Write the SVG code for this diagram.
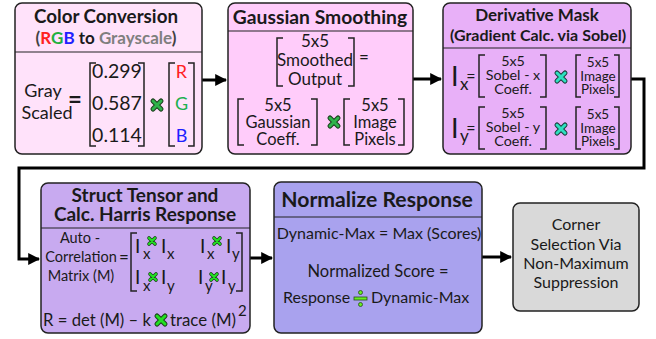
<svg xmlns="http://www.w3.org/2000/svg" width="656" height="339" viewBox="0 0 656 339">
<defs>
<style>
text{font-family:Lato,"Noto Sans","Liberation Sans",sans-serif;fill:#1a1a1a}
.box{stroke:#222;stroke-width:1.5}
.sep{stroke:#222;stroke-width:1.2}
.ttl{font-weight:bold;text-anchor:middle}
.c{text-anchor:middle}
.br{fill:none;stroke:#222;stroke-width:1.5}
.conn{fill:none;stroke:#000;stroke-width:3}
</style>
<marker id="ah" viewBox="0 0 10 10" refX="9" refY="5" markerWidth="4" markerHeight="4" markerUnits="strokeWidth" orient="auto">
<path d="M0,0 L10,5 L0,10 z" fill="#000"/>
</marker>
<g id="xg"><path d="M-4,-4 L4,4 M-4,4 L4,-4" stroke="#1d3d1d" stroke-width="5" stroke-linecap="round"/><path d="M-4,-4 L4,4 M-4,4 L4,-4" stroke="#2fb34a" stroke-width="3" stroke-linecap="round"/></g>
<g id="xb"><path d="M-4,-4 L4,4 M-4,4 L4,-4" stroke="#1d3d1d" stroke-width="5" stroke-linecap="round"/><path d="M-4,-4 L4,4 M-4,4 L4,-4" stroke="#22e022" stroke-width="3" stroke-linecap="round"/></g>
<g id="xc"><path d="M-4,-4 L4,4 M-4,4 L4,-4" stroke="#1d3d3d" stroke-width="5" stroke-linecap="round"/><path d="M-4,-4 L4,4 M-4,4 L4,-4" stroke="#2ee0c0" stroke-width="3" stroke-linecap="round"/></g>
<g id="xs"><path d="M-3,-3 L3,3 M-3,3 L3,-3" stroke="#1d3d1d" stroke-width="3.6" stroke-linecap="round"/><path d="M-3,-3 L3,3 M-3,3 L3,-3" stroke="#22e022" stroke-width="2.2" stroke-linecap="round"/></g>
</defs>

<g id="connectors">
<path class="conn" d="M202,80 H226" marker-end="url(#ah)"/>
<path class="conn" d="M413,79 H441" marker-end="url(#ah)"/>
<path class="conn" d="M631,79 H644 V168 H19 V259 H39" marker-end="url(#ah)"/>
<path class="conn" d="M250,258 H272" marker-end="url(#ah)"/>
<path class="conn" d="M482,257 H511" marker-end="url(#ah)"/>
</g>

<g id="color-conversion">
<rect class="box" x="15" y="3" width="187" height="151" rx="7" fill="#ffe2fa"/>
<line class="sep" x1="15" y1="52" x2="202" y2="52"/>
<text class="ttl" x="106" y="23" font-size="18.8">Color Conversion</text>
<text class="ttl" x="106" y="44" font-size="17"><tspan fill="#404040">(</tspan><tspan fill="#ff2020">R</tspan><tspan fill="#20b040">G</tspan><tspan fill="#2020ff">B</tspan> to <tspan fill="#7f7f7f">Grayscale</tspan><tspan fill="#404040">)</tspan></text>
<text class="c" x="43" y="97" font-size="18">Gray</text>
<text class="c" x="47" y="119" font-size="18">Scaled</text>
<text class="c" x="75" y="108" font-size="24" font-weight="bold">=</text>
<path class="br" d="M96,63 H90 V146 H96 M138,63 H144 V146 H138"/>
<text class="c" x="117" y="78" font-size="19.5">0.299</text>
<text class="c" x="117" y="110" font-size="19.5">0.587</text>
<text class="c" x="117" y="142" font-size="19.5">0.114</text>
<use href="#xg" x="157" y="105"/>
<path class="br" d="M175,63 H169 V146 H175 M188,63 H194 V146 H188"/>
<text class="c" x="181.5" y="78" font-size="18" style="fill:#ff2020">R</text>
<text class="c" x="181.5" y="110" font-size="18" style="fill:#20b050">G</text>
<text class="c" x="181.5" y="142" font-size="18" style="fill:#2020ff">B</text>
</g>

<g id="gaussian-smoothing">
<rect class="box" x="228" y="3" width="185" height="151" rx="7" fill="#ffccfa"/>
<line class="sep" x1="228" y1="31" x2="413" y2="31"/>
<text class="ttl" x="320" y="24" font-size="19.3">Gaussian Smoothing</text>
<path class="br" d="M283,38 H277 V86 H283 M348,38 H354 V86 H348"/>
<text class="c" x="315" y="47" font-size="17">5x5</text>
<text class="c" x="315" y="66" font-size="17">Smoothed</text>
<text class="c" x="315" y="85" font-size="17">Output</text>
<text class="c" x="364" y="63" font-size="17">=</text>
<path class="br" d="M244,99 H238 V145 H244 M311,99 H317 V145 H311"/>
<text class="c" x="278" y="111" font-size="16.5">5x5</text>
<text class="c" x="278" y="128" font-size="16.5">Gaussian</text>
<text class="c" x="278" y="145" font-size="16.5">Coeff.</text>
<use href="#xg" x="334" y="122"/>
<path class="br" d="M350,99 H344 V145 H350 M398,99 H404 V145 H398"/>
<text class="c" x="375" y="111" font-size="16.5">5x5</text>
<text class="c" x="375" y="128" font-size="16.5">Image</text>
<text class="c" x="375" y="145" font-size="16.5">Pixels</text>
</g>

<g id="derivative-mask">
<rect class="box" x="443" y="3" width="188" height="151" rx="7" fill="#e8b0f8"/>
<line class="sep" x1="443" y1="48" x2="631" y2="48"/>
<text class="ttl" x="537" y="21" font-size="17">Derivative Mask</text>
<text class="ttl" x="538" y="41" font-size="16">(Gradient Calc. via Sobel)</text>
<text x="451" y="86" font-size="27">I</text>
<text x="460" y="90" font-size="17">x</text>
<text class="c" x="471" y="82" font-size="16">=</text>
<path class="br" d="M485,55 H479 V97 H485 M540,55 H546 V97 H540"/>
<text class="c" x="513" y="66" font-size="14.3">5x5</text>
<text class="c" x="513" y="80" font-size="14.3">Sobel - x</text>
<text class="c" x="513" y="94" font-size="14.3">Coeff.</text>
<use href="#xc" x="561" y="77"/>
<path class="br" d="M581,55 H576 V97 H581 M614,55 H619 V97 H614"/>
<text class="c" x="598" y="67" font-size="13.5">5x5</text>
<text class="c" x="598" y="81" font-size="13.5">Image</text>
<text class="c" x="598" y="94" font-size="13.5">Pixels</text>
<text x="451" y="138" font-size="27">I</text>
<text x="460" y="142" font-size="17">y</text>
<text class="c" x="471" y="134" font-size="16">=</text>
<path class="br" d="M485,107 H479 V149 H485 M540,107 H546 V149 H540"/>
<text class="c" x="513" y="118" font-size="14.3">5x5</text>
<text class="c" x="513" y="132" font-size="14.3">Sobel - y</text>
<text class="c" x="513" y="146" font-size="14.3">Coeff.</text>
<use href="#xc" x="561" y="129"/>
<path class="br" d="M581,107 H576 V149 H581 M614,107 H619 V149 H614"/>
<text class="c" x="598" y="119" font-size="13.5">5x5</text>
<text class="c" x="598" y="133" font-size="13.5">Image</text>
<text class="c" x="598" y="146" font-size="13.5">Pixels</text>
</g>

<g id="struct-tensor">
<rect class="box" x="41" y="183" width="209" height="150" rx="7" fill="#c8aaf0"/>
<line class="sep" x1="41" y1="228" x2="250" y2="228"/>
<text class="ttl" x="145" y="202" font-size="19">Struct Tensor and</text>
<text class="ttl" x="145" y="221" font-size="19">Calc. Harris Response</text>
<text class="c" x="80" y="243" font-size="14.5">Auto -</text>
<text class="c" x="81" y="262" font-size="14.5">Correlation</text>
<text class="c" x="81" y="281" font-size="14.5">Matrix (M)</text>
<text class="c" x="124" y="263" font-size="17">=</text>
<path class="br" d="M137,233 H131 V291 H137 M236,233 H242 V291 H236"/>
<g font-size="19">
<text x="135" y="253">I</text><text x="143" y="259" font-size="15">x</text><text x="161" y="253">I</text><text x="167" y="259" font-size="15">x</text>
<text x="200" y="253">I</text><text x="207" y="259" font-size="15">x</text><text x="226" y="253">I</text><text x="232" y="259" font-size="15">y</text>
<text x="135" y="284">I</text><text x="143" y="291" font-size="15">x</text><text x="161" y="284">I</text><text x="167" y="291" font-size="15">y</text>
<text x="198" y="284">I</text><text x="205" y="291" font-size="15">y</text><text x="221" y="284">I</text><text x="228" y="291" font-size="15">y</text>
</g>
<use href="#xs" x="152" y="241"/>
<use href="#xs" x="217" y="241"/>
<use href="#xs" x="153" y="277"/>
<use href="#xs" x="214" y="277"/>
<text x="43" y="326" font-size="18" textLength="108" lengthAdjust="spacingAndGlyphs">R = det (M) – k</text>
<use href="#xb" x="161" y="320"/>
<text x="170" y="326" font-size="18" textLength="66" lengthAdjust="spacingAndGlyphs">trace (M)</text>
<text x="238" y="316" font-size="15">2</text>
</g>

<g id="normalize-response">
<rect class="box" x="274" y="182" width="208" height="151" rx="7" fill="#a9a2ee"/>
<line class="sep" x1="274" y1="217" x2="482" y2="217"/>
<text class="ttl" x="377" y="207" font-size="21.2">Normalize Response</text>
<text class="c" x="379" y="239" font-size="16">Dynamic-Max = Max (Scores)</text>
<text class="c" x="378" y="277" font-size="16.5">Normalized Score =</text>
<text x="283" y="303" font-size="16">Response</text>
<g stroke="#2a4a1a" stroke-width="0.8" fill="#66ee22">
<rect x="354" y="297" width="13" height="3"/>
<circle cx="360.5" cy="292.5" r="2"/>
<circle cx="360.5" cy="304.5" r="2"/>
</g>
<text x="371" y="303" font-size="16">Dynamic-Max</text>
</g>

<g id="corner-selection">
<rect class="box" x="513" y="203" width="126" height="108" rx="7" fill="#d9d9d9"/>
<text class="c" x="576" y="230" font-size="16">Corner</text>
<text class="c" x="576" y="250" font-size="16">Selection Via</text>
<text class="c" x="576" y="269" font-size="16">Non-Maximum</text>
<text class="c" x="576" y="288" font-size="16">Suppression</text>
</g>
</svg>
